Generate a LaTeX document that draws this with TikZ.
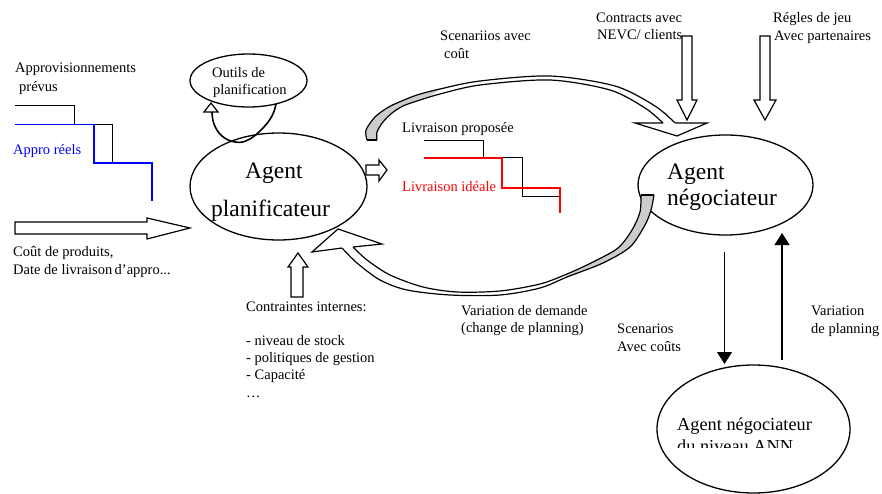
\documentclass[tikz,border=0pt]{standalone}
\usepackage{fontspec}
\setmainfont{Liberation Serif}
\usetikzlibrary{shapes.geometric,arrows.meta}
\begin{document}
\begin{tikzpicture}[x=1pt,y=-1pt,
  txt/.style={anchor=base west,inner sep=0pt,font=\fontsize{14.5}{17}\selectfont},
  big/.style={anchor=base west,inner sep=0pt,font=\fontsize{23.5}{28}\selectfont},
  mid/.style={anchor=base west,inner sep=0pt,font=\fontsize{18.3}{22}\selectfont},
  ell/.style={draw,ellipse,line width=1.3pt,inner sep=0pt},
  hollow/.style={draw,fill=white,line width=1.2pt,line join=miter},
  band/.style={line width=1.2pt},
  solidarr/.style={line width=1.3pt,-{Triangle[width=15pt,length=12pt]}},
]
\useasboundingbox (0,0) rectangle (882,494);

% ---------- ellipses ----------
\node[ell,minimum width=117pt,minimum height=53pt] (outils) at (248.5,80.5) {};
\node[ell,minimum width=177pt,minimum height=107pt] (planif) at (278.5,186.5) {};
\node[ell,minimum width=175pt,minimum height=100pt] (nego) at (725.5,185) {};
\node[ell,minimum width=193pt,minimum height=128pt] (ann) at (753.5,429) {};

% ---------- texts in ellipses ----------
\node[txt] (outilsA) at (212,78) {Outils de};
\node[txt] (outilsB) at (213,95) {planification};
\node[big] (planifA) at (245,179) {Agent};
\node[big] (planifB) at (211,217) {planificateur};
\node[big] (negoA) at (667,180) {Agent};
\node[big] (negoB) at (667,206) {négociateur};
\node[mid] (annA) at (677,430) {Agent négociateur};
\begin{scope}
  \clip (640,400) rectangle (860,447);
  \node[mid] (annB) at (677,452) {du niveau ANN};
\end{scope}

% ---------- left side ----------
\node[txt] (appro1) at (15,73) {Approvisionnements};
\node[txt] (appro2) at (19,92) {prévus};
\node[txt,text=blue] (reels) at (13,155) {Appro réels};
\draw[line width=1pt] (15,106) -- (74,106) -- (74,124.5) -- (112,124.5) -- (112,163);
\draw[blue,line width=1.4pt] (15,124.5) -- (94,124.5) -- (94,163) -- (152,163) -- (152,201);

\draw[hollow] (15,222) -- (147,222) -- (147,218) -- (190,228) -- (147,239) -- (147,234) -- (15,234) -- cycle;
\node[txt] (cout1) at (13,256) {Coût de produits,};
\node[txt] (cout2) at (13,274) {Date de livraison\,d'appro...};

% ---------- self loop on planificateur ----------
\coordinate (loopS) at (276,104);
\coordinate (loopE) at (212,112);
\draw[line width=1.6pt] plot[smooth,tension=0.7] coordinates {(loopS) (272,116) (262,129) (248,140) (235,142) (222,136) (214,124) (loopE)};
\draw[hollow] (204,112) -- (211,103) -- (218,112) -- cycle;

% ---------- small right arrow ----------
\draw[hollow] (366,165) -- (379,165) -- (379,160) -- (387,170) -- (379,181) -- (379,175) -- (366,175) -- cycle;

% ---------- constraints ----------
\draw[hollow] (291,297) -- (291,267) -- (288,267) -- (298,253) -- (308,267) -- (303,267) -- (303,297) -- cycle;
\node[txt] (contr0) at (246,311) {Contraintes internes:};
\node[txt] (contr1) at (246,345) {- niveau de stock};
\node[txt] (contr2) at (246,362) {- politiques de gestion};
\node[txt] (contr3) at (246,379) {- Capacité};
\node[txt] (contr4) at (246,397) {…};

% ---------- central steps ----------
\node[txt] (livp) at (402,133) {Livraison proposée};
\node[txt,text=red] (livi) at (402,192) {Livraison idéale};
\draw[line width=1pt] (424,141) -- (483,141) -- (483,158) -- (522,158) -- (522,197) -- (560,197);
\draw[red,line width=1.4pt] (424,158) -- (502,158) -- (502,188) -- (560,188) -- (560,213);

% ---------- top curved arrow ----------
\fill[black!20] plot[smooth] coordinates {(367,140) (366,130) (375,117) (387,108) (397,103) (417,95) (440,89)}
  -- plot[smooth] coordinates {(432,95) (417,101) (403,106) (392,113) (383,122) (377,132) (377,140)} -- cycle;
\draw[band] plot[smooth] coordinates {(367,140) (366,130) (375,117) (387,108) (397,103) (417,95) (440,89) (480,81) (550,76) (615,86) (655,106) (675,123)};
\draw[band] plot[smooth] coordinates {(377,140) (377,132) (383,122) (392,113) (403,106) (417,101) (440,94) (480,85) (550,80) (610,90) (645,108) (663,123)};
\draw[band] (367,140) -- (377,140);
\draw[hollow] (663,123) -- (635,123) -- (677,136) -- (707,123) -- (675,123);
\node[txt] (scen1) at (440,41) {Scenariios avec};
\node[txt] (scen2) at (444,59) {coût};

% ---------- bottom curved arrow ----------
\fill[black!20] plot[smooth] coordinates {(565,278) (603,263) (630,247) (645,225) (651,210) (654,195)}
  -- plot[smooth] coordinates {(641,195) (640,212) (632,230) (618,248) (593,262) (565,276)} -- cycle;
\draw[band] plot[smooth] coordinates {(342,248) (357,263) (380,280) (407,290) (450,295) (500,295) (540,288) (567,277) (603,263) (630,247) (645,225) (651,210) (654,195)};
\draw[band] plot[smooth] coordinates {(353,247) (367,260) (390,275) (423,287) (457,292) (500,291) (540,284) (567,274) (593,262) (618,248) (632,230) (640,212) (641,195)};
\draw[band] (641,195) -- (654,195);
\draw[hollow] (353,247) -- (382,244) -- (338,229) -- (312,252) -- (342,248);
\node[txt] (var1) at (461,315) {Variation de demande};
\node[txt] (var2) at (461,332) {(change de planning)};

% ---------- top right inputs ----------
\node[txt] (ctr1) at (596,23) {Contracts avec};
\node[txt] (ctr2) at (597,40) {NEVC/ clients};
\draw[hollow] (682,36) -- (692,36) -- (692,100) -- (697,100) -- (687,120) -- (677,100) -- (682,100) -- cycle;
\node[txt] (reg1) at (773,23) {Régles de jeu};
\node[txt] (reg2) at (774,41) {Avec partenaires};
\draw[hollow] (760,36) -- (770,36) -- (770,100) -- (776,100) -- (765,120) -- (754,100) -- (760,100) -- cycle;

% ---------- nego <-> ann ----------
\coordinate (dA) at (724.5,252);
\coordinate (dB) at (724.5,364);
\coordinate (uA) at (782,360);
\coordinate (uB) at (782,233);
\draw[solidarr] (dA) -- (dB);
\draw[solidarr] (uA) -- (uB);
\node[txt] (sc1) at (617,333) {Scenarios};
\node[txt] (sc2) at (617,351) {Avec coûts};
\node[txt] (vp1) at (811,315) {Variation};
\node[txt] (vp2) at (811,333) {de planning};
\end{tikzpicture}
\end{document}
